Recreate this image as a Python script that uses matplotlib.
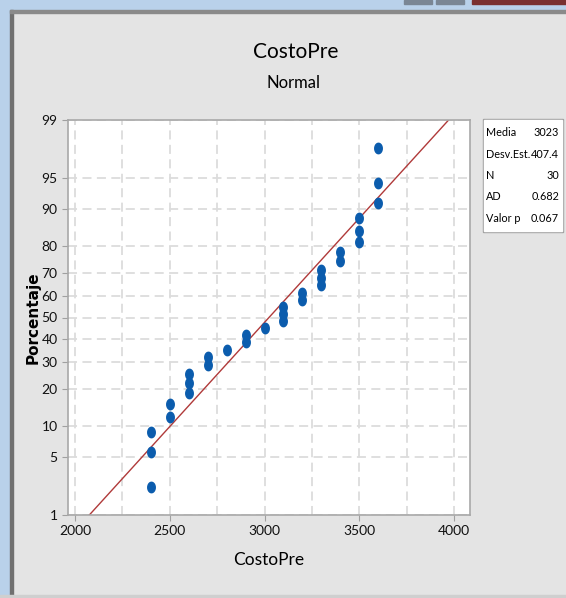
import numpy as np
import matplotlib
matplotlib.use("Agg")
import matplotlib.pyplot as plt
from matplotlib.patches import Rectangle
from matplotlib.path import Path
from statistics import NormalDist

# CostoPre values (30 obs)
costo = [2400, 2400, 2400, 2500, 2500, 2600, 2600, 2600, 2700, 2700,
         2800, 2900, 2900, 3000, 3100, 3100, 3100, 3200, 3200, 3300,
         3300, 3300, 3400, 3400, 3500, 3500, 3500, 3600, 3600, 3600]
pct_ticks = [1, 5, 10, 20, 30, 40, 50, 60, 70, 80, 90, 95, 99]
x_ticks = [2000, 2500, 3000, 3500, 4000]
ad_txt = "0.682"
p_txt = "0.067"

nd = NormalDist()
x = np.sort(np.array(costo, dtype=float))
n = len(x)
rank = np.arange(1, n + 1)
pct = (rank - 0.3) / (n + 0.4)
z = np.array([nd.inv_cdf(p) for p in pct])
mu = x.mean()
sd = x.std(ddof=1)

plt.rcParams['font.family'] = ['Lato', 'DejaVu Sans']

fig = plt.figure(figsize=(5.66, 5.98), dpi=100)
fig.patch.set_facecolor('#e4e4e4')

# window chrome of the screenshot
W, H = 566, 598
def px(x0, y0, w, h, c):
    fig.patches.append(Rectangle((x0 / W, 1 - (y0 + h) / H), w / W, h / H,
                                 transform=fig.transFigure, color=c, zorder=0))
px(0, 0, 10, 598, '#b9d1ea')
px(0, 0, 566, 10, '#b9d1ea')
px(10, 10, 3, 588, '#707070')
px(10, 10, 556, 3, '#8a8a8a')
px(0, 595, 566, 3, '#cfcfcf')
px(404, 0, 28, 4, '#7a8694')
px(436, 0, 28, 4, '#7a8694')
px(472, 0, 94, 4, '#7a3030')

ax = fig.add_axes([68 / W, 1 - 515 / H, 402 / W, 395 / H])
ax.set_facecolor('white')

zt = [nd.inv_cdf(p / 100) for p in pct_ticks]
ax.set_ylim(zt[0], zt[-1])
ax.set_xlim(1963, 4084)

ax.set_xticks(x_ticks)
ax.set_xticks(np.arange(2000, 4001, 250), minor=True)
ax.set_yticks(zt)
ax.set_yticklabels([str(p) for p in pct_ticks])
ax.tick_params(axis='both', which='major', colors='#a0a0a0', length=4,
               labelcolor='#111111', labelsize=10)
ax.tick_params(axis='x', which='minor', length=0)
ax.grid(True, which='both', axis='x', color='#dcdcdc', linestyle=(0, (5, 3)), lw=1.3)
ax.grid(True, which='major', axis='y', color='#dcdcdc', linestyle=(0, (5, 3)), lw=1.3)
ax.set_axisbelow(True)
for s in ax.spines.values():
    s.set_color('#a8a8a8')
    s.set_linewidth(1.2)

# fitted normal line
zl = np.array([zt[0], zt[-1]])
ax.plot(mu + sd * zl, zl, color='#b03a3a', lw=1.0, zorder=2)

# slightly tall elliptical dots
t = np.linspace(0, 2 * np.pi, 40)
ell = Path(np.column_stack([0.72 * np.cos(t), np.sin(t)]), closed=True)
ax.plot(x, z, linestyle='none', marker=ell, markersize=7.5,
        color='#0b5cad', mec='#0b5cad', zorder=3)

ax.set_xlabel('CostoPre', fontsize=12.5)
ax.xaxis.set_label_coords(0.5, -0.094)
ax.set_ylabel('Porcentaje', fontsize=11, fontweight='bold', family='DejaVu Sans')
ax.yaxis.set_label_coords(-0.068, 0.5)

fig.text(296 / W, 1 - 52 / H, 'CostoPre', ha='center', va='center', fontsize=15)
fig.text(293 / W, 1 - 83 / H, 'Normal', ha='center', va='center', fontsize=12)

# stats box
px(483, 119, 80, 113, '#a0a0a0')
px(484, 120, 78, 111, 'white')
rows = [('Media', f'{mu:.0f}'), ('Desv.Est.', f'{sd:.1f}'), ('N', f'{n}'),
        ('AD', ad_txt), ('Valor p', p_txt)]
for i, (k, v) in enumerate(rows):
    yy = 1 - (133 + i * 21.3) / H
    fig.text(486 / W, yy, k, ha='left', va='center', fontsize=7.8)
    fig.text(559 / W, yy, v, ha='right', va='center', fontsize=7.8)

fig.savefig('out.png', dpi=100, facecolor=fig.get_facecolor())
